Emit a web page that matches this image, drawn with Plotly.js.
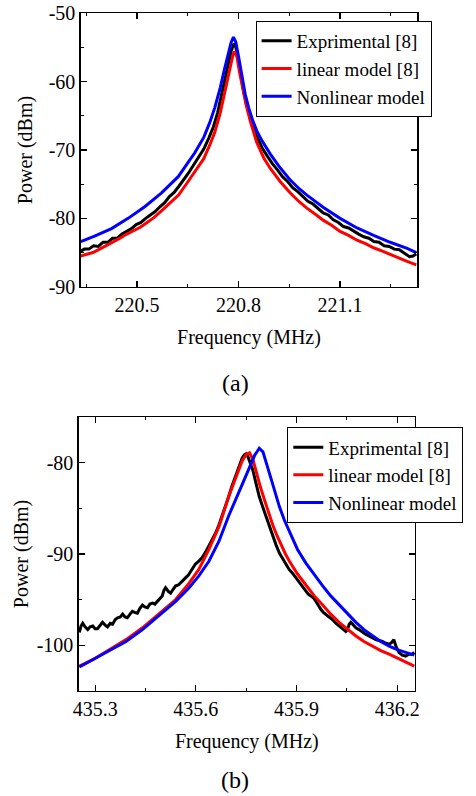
<!DOCTYPE html>
<html>
<head>
<meta charset="utf-8">
<script src="https://cdn.plot.ly/plotly-3.0.1.min.js"></script>
<style>html,body{margin:0;padding:0;background:#fff;}#chart{width:476px;height:796px;}</style>
</head>
<body>
<div id="chart"></div>
<script>
// ---------- Panel (a) data ----------
const aExpFreq = [220.334,220.345,220.358,220.372,220.386,220.400,220.414,220.428,220.442,220.456,220.470,220.484,220.498,220.512,220.526,220.540,220.554,220.568,220.582,220.596,220.610,220.624,220.638,220.652,220.666,220.680,220.697,220.712,220.726,220.738,220.746,220.756,220.765,220.772,220.778,220.785,220.790,220.795,220.805,220.815,220.825,220.838,220.854,220.870,220.885,220.900,220.915,220.930,220.945,220.960,220.975,220.990,221.005,221.020,221.035,221.050,221.065,221.080,221.095,221.110,221.125,221.140,221.155,221.170,221.185,221.200,221.215,221.230,221.245,221.260,221.275,221.290,221.305,221.315,221.325];
const aExpPower = [-84.8,-84.5,-84.5,-84.0,-84.1,-83.5,-83.5,-82.9,-82.9,-82.3,-81.9,-81.5,-80.9,-80.6,-80.0,-79.5,-79.0,-78.3,-77.7,-76.8,-76.2,-75.3,-74.4,-73.4,-72.3,-71.2,-69.9,-68.3,-66.6,-64.6,-62.7,-60.4,-58.3,-56.6,-55.6,-54.6,-54.5,-55.6,-58.6,-61.4,-63.6,-65.9,-68.0,-69.7,-70.9,-72.0,-72.9,-73.9,-74.6,-75.5,-76.1,-76.8,-77.5,-77.9,-78.5,-79.2,-79.5,-80.2,-80.6,-81.2,-81.4,-81.9,-82.3,-82.7,-82.9,-83.4,-83.5,-84.0,-84.1,-84.5,-84.6,-85.1,-85.6,-85.5,-85.2];

const aLinFreq = [220.334,220.350,220.370,220.390,220.410,220.430,220.450,220.470,220.490,220.510,220.530,220.550,220.570,220.590,220.610,220.623,220.647,220.671,220.697,220.715,220.730,220.746,220.758,220.768,220.778,220.784,220.789,220.795,220.803,220.812,220.822,220.835,220.854,220.875,220.894,220.923,220.953,220.980,221.002,221.030,221.051,221.075,221.100,221.125,221.150,221.175,221.199,221.225,221.248,221.275,221.298,221.325];
const aLinPower = [-85.5,-85.3,-85.0,-84.5,-84.0,-83.4,-82.9,-82.3,-81.8,-81.3,-80.6,-79.9,-79.0,-78.1,-77.2,-76.6,-74.9,-73.2,-71.3,-69.3,-67.4,-64.6,-62.0,-59.8,-57.5,-56.0,-55.6,-56.3,-58.6,-60.9,-63.3,-65.8,-68.9,-71.2,-72.7,-74.6,-76.3,-77.6,-78.5,-79.5,-80.3,-81.0,-81.9,-82.5,-83.2,-83.7,-84.3,-84.8,-85.3,-85.8,-86.3,-86.8];

const aNonFreq = [220.334,220.375,220.425,220.474,220.523,220.572,220.622,220.647,220.671,220.697,220.715,220.730,220.746,220.758,220.768,220.778,220.785,220.792,220.800,220.810,220.820,220.830,220.842,220.854,220.870,220.894,220.923,220.953,220.980,221.002,221.051,221.100,221.150,221.199,221.248,221.298,221.325];
const aNonPower = [-83.4,-82.6,-81.5,-80.0,-78.3,-76.3,-73.9,-72.2,-70.4,-68.2,-66.0,-63.8,-60.9,-58.3,-56.2,-54.3,-53.5,-54.2,-56.3,-59.4,-61.9,-63.8,-65.7,-67.2,-68.7,-70.6,-72.6,-74.4,-75.7,-76.6,-78.4,-80.0,-81.4,-82.5,-83.5,-84.4,-85.0];

const aXTickVals = [220.5, 220.8, 221.1];
const aXTickText = ['220.5', '220.8', '221.1'];
const aYTickVals = [-90, -80, -70, -60, -50];
const aYTickText = ['-90', '-80', '-70', '-60', '-50'];

// ---------- Panel (b) data ----------
const bExpFreq = [435.253,435.258,435.263,435.270,435.278,435.285,435.293,435.300,435.307,435.315,435.322,435.330,435.337,435.345,435.352,435.360,435.367,435.375,435.382,435.389,435.396,435.404,435.411,435.418,435.426,435.433,435.441,435.448,435.456,435.463,435.471,435.478,435.486,435.493,435.500,435.505,435.510,435.518,435.525,435.532,435.540,435.548,435.555,435.562,435.570,435.578,435.585,435.592,435.599,435.609,435.619,435.629,435.639,435.649,435.659,435.669,435.679,435.689,435.698,435.708,435.718,435.728,435.738,435.745,435.750,435.755,435.762,435.770,435.779,435.789,435.799,435.809,435.819,435.829,435.839,435.849,435.859,435.869,435.878,435.888,435.898,435.908,435.918,435.928,435.935,435.943,435.950,435.958,435.965,435.973,435.980,435.987,435.997,436.007,436.017,436.027,436.037,436.047,436.052,436.057,436.062,436.070,436.077,436.086,436.096,436.106,436.116,436.126,436.136,436.146,436.156,436.166,436.176,436.184,436.190,436.197,436.205,436.215,436.225,436.235,436.245,436.251];
const bExpPower = [-98.6,-97.9,-97.6,-98.0,-98.3,-98.0,-97.9,-98.2,-98.2,-97.8,-97.5,-97.8,-98.0,-97.6,-97.7,-97.2,-97.0,-96.9,-96.6,-96.9,-97.0,-96.6,-96.3,-96.4,-96.5,-96.0,-95.6,-95.8,-95.9,-95.5,-95.4,-95.5,-95.2,-94.9,-94.6,-94.0,-93.7,-94.1,-94.3,-93.9,-93.5,-93.4,-93.2,-92.9,-92.6,-92.3,-91.9,-91.5,-91.1,-90.8,-90.4,-89.8,-89.1,-88.5,-87.7,-86.8,-85.8,-84.8,-83.7,-82.5,-81.5,-80.4,-79.5,-79.1,-79.0,-79.3,-80.0,-80.8,-82.2,-83.7,-84.8,-85.9,-87.0,-88.0,-89.0,-89.9,-90.5,-91.1,-91.7,-92.1,-92.6,-93.0,-93.6,-94.1,-94.4,-94.6,-94.8,-95.2,-95.7,-96.1,-96.4,-96.6,-96.9,-97.2,-97.6,-97.9,-98.2,-98.5,-98.3,-97.7,-97.5,-97.8,-98.1,-98.3,-98.6,-98.8,-99.0,-99.2,-99.4,-99.5,-99.6,-99.8,-99.9,-99.7,-99.4,-100.2,-100.8,-101.1,-101.2,-101.0,-101.0,-100.8];

const bLinFreq = [435.253,435.293,435.342,435.392,435.441,435.490,435.540,435.580,435.609,435.639,435.669,435.698,435.718,435.738,435.750,435.760,435.770,435.780,435.792,435.804,435.817,435.829,435.842,435.854,435.867,435.879,435.903,435.928,435.953,435.978,436.002,436.027,436.052,436.077,436.101,436.126,436.151,436.176,436.200,436.225,436.251];
const bLinPower = [-102.3,-101.6,-100.5,-99.4,-98.1,-96.6,-95.0,-93.2,-91.7,-89.5,-87.0,-83.7,-81.7,-79.8,-79.1,-78.9,-79.6,-81.0,-82.6,-84.0,-85.5,-86.8,-88.0,-89.0,-90.0,-90.8,-92.2,-93.4,-94.6,-95.6,-96.6,-97.5,-98.3,-99.0,-99.6,-100.1,-100.6,-101.0,-101.4,-101.9,-102.3];

const bNonFreq = [435.253,435.293,435.342,435.392,435.441,435.490,435.540,435.580,435.609,435.639,435.669,435.698,435.718,435.738,435.760,435.775,435.789,435.800,435.819,435.834,435.849,435.864,435.879,435.903,435.928,435.953,435.978,436.002,436.027,436.052,436.077,436.101,436.126,436.151,436.176,436.200,436.225,436.251];
const bNonPower = [-102.4,-101.6,-100.6,-99.6,-98.3,-96.8,-95.2,-93.7,-92.4,-90.8,-88.6,-85.8,-84.0,-82.4,-80.5,-79.2,-78.4,-78.8,-81.1,-83.0,-84.8,-86.3,-87.6,-89.5,-91.0,-92.3,-93.5,-94.6,-95.6,-96.6,-97.5,-98.3,-99.0,-99.6,-100.1,-100.5,-100.8,-101.1];

const bXTickVals = [435.3, 435.6, 435.9, 436.2];
const bXTickText = ['435.3', '435.6', '435.9', '436.2'];
const bYTickVals = [-100, -90, -80];
const bYTickText = ['-100', '-90', '-80'];

const seriesNames = ['Exprimental [8]', 'linear model [8]', 'Nonlinear model'];
const seriesColors = ['#000000', '#ff0000', '#0000ff'];

// ---------- build ----------
const FONT = 'Liberation Serif, Times New Roman, serif';
function tr(x, y, i, xa, ya, lg) {
  return {x: x, y: y, type: 'scatter', mode: 'lines', name: seriesNames[i],
    xaxis: xa, yaxis: ya, legend: lg,
    line: {color: seriesColors[i], width: 3}};
}
const data = [
  tr(aExpFreq, aExpPower, 0, 'x', 'y', 'legend'),
  tr(aLinFreq, aLinPower, 1, 'x', 'y', 'legend'),
  tr(aNonFreq, aNonPower, 2, 'x', 'y', 'legend'),
  tr(bExpFreq, bExpPower, 0, 'x2', 'y2', 'legend2'),
  tr(bLinFreq, bLinPower, 1, 'x2', 'y2', 'legend2'),
  tr(bNonFreq, bNonPower, 2, 'x2', 'y2', 'legend2')
];

function axis(extra) {
  return Object.assign({
    showline: true, linecolor: '#000', linewidth: 1.3, mirror: 'ticks',
    ticks: 'inside', ticklen: 6, tickwidth: 1.2, tickcolor: '#000',
    showgrid: false, zeroline: false, tickmode: 'array',
    tickfont: {family: FONT, size: 20, color: '#000'}
  }, extra);
}

const layout = {
  width: 476, height: 796,
  margin: {l: 0, r: 0, t: 0, b: 0},
  paper_bgcolor: '#fff', plot_bgcolor: '#fff',
  font: {family: FONT, size: 20, color: '#000'},
  xaxis: axis({domain: [0.1695, 0.8767], range: [220.334, 221.328], anchor: 'y',
    tickvals: aXTickVals, ticktext: aXTickText,
    minor: {tickmode: 'linear', tick0: 220.35, dtick: 0.15, ticks: 'inside', ticklen: 3, tickcolor: '#000'},
    title: {text: 'Frequency (MHz)', font: {family: FONT, size: 20, color: '#000'}, standoff: 15}}),
  yaxis: axis({domain: [0.6398, 0.9833], range: [-90, -50], anchor: 'x',
    tickvals: aYTickVals, ticktext: aYTickText,
    minor: {tickmode: 'linear', tick0: -90, dtick: 5, ticks: 'inside', ticklen: 3, tickcolor: '#000'},
    title: {text: 'Power (dBm)', font: {family: FONT, size: 20, color: '#000'}, standoff: 10}}),
  xaxis2: axis({domain: [0.1653, 0.8718], range: [435.251, 436.253], anchor: 'y2',
    tickvals: bXTickVals, ticktext: bXTickText,
    minor: {tickmode: 'linear', tick0: 435.15, dtick: 0.15, ticks: 'inside', ticklen: 3, tickcolor: '#000'},
    title: {text: 'Frequency (MHz)', font: {family: FONT, size: 20, color: '#000'}, standoff: 15}}),
  yaxis2: axis({domain: [0.1323, 0.4758], range: [-105, -75], anchor: 'x2',
    tickvals: bYTickVals, ticktext: bYTickText,
    minor: {tickmode: 'linear', tick0: -105, dtick: 5, ticks: 'inside', ticklen: 3, tickcolor: '#000'},
    title: {text: 'Power (dBm)', font: {family: FONT, size: 20, color: '#000'}, standoff: 2}}),
  legend: {x: 0.537, y: 0.9736, xanchor: 'left', yanchor: 'top',
    bgcolor: '#fff', bordercolor: '#000', borderwidth: 1,
    font: {family: FONT, size: 19, color: '#000'}, tracegroupgap: 0},
  legend2: {x: 0.6036, y: 0.4632, xanchor: 'left', yanchor: 'top',
    bgcolor: '#fff', bordercolor: '#000', borderwidth: 1,
    font: {family: FONT, size: 19, color: '#000'}, tracegroupgap: 0},
  showlegend: true,
  annotations: [
    {text: '(a)', xref: 'paper', yref: 'paper', x: 235/476, y: 1 - 383/796,
     xanchor: 'center', yanchor: 'middle', showarrow: false,
     font: {family: FONT, size: 24, color: '#000'}},
    {text: '(b)', xref: 'paper', yref: 'paper', x: 235/476, y: 1 - 780/796,
     xanchor: 'center', yanchor: 'middle', showarrow: false,
     font: {family: FONT, size: 24, color: '#000'}}
  ]
};

Plotly.newPlot('chart', data, layout, {staticPlot: true, displayModeBar: false});
</script>
</body>
</html>
